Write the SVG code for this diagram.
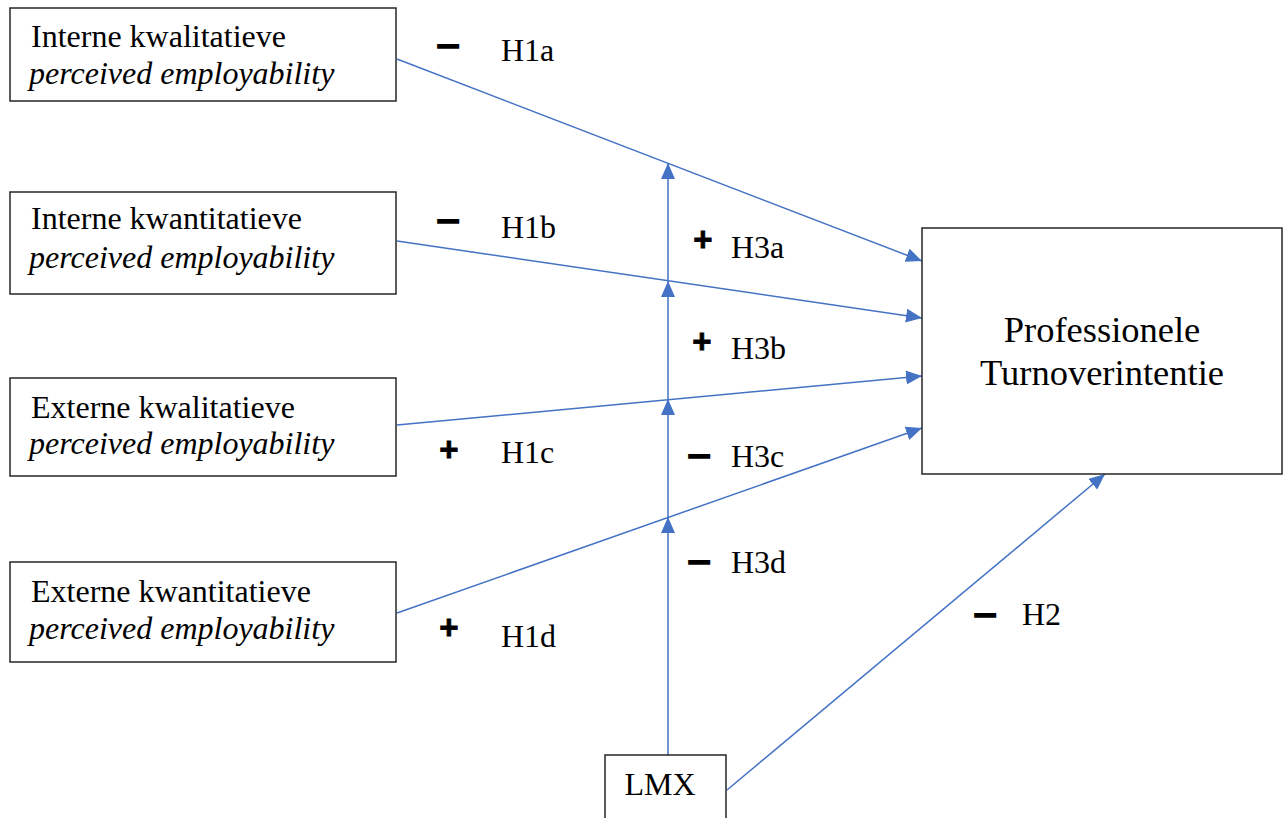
<svg xmlns="http://www.w3.org/2000/svg" width="1287" height="818" viewBox="0 0 1287 818">
<style>
.box{fill:#fff;stroke:#262626;stroke-width:1.5}
.t{font-family:"Liberation Serif","Times New Roman",serif;font-size:32px;fill:#000}
.i{font-style:italic}
.big{font-size:36.5px}
.c{stroke:#4472C4;stroke-width:1.5;fill:none}
.minus{font-family:"Liberation Sans",Arial,sans-serif;font-weight:bold;font-size:44px;text-anchor:middle;fill:#000}
.plus{font-family:"Liberation Sans",Arial,sans-serif;font-weight:900;font-size:33px;text-anchor:middle;fill:#000;stroke:#000;stroke-width:0.8}
</style>
<defs>
<marker id="ah" viewBox="0 0 16 14" refX="16" refY="7" markerWidth="16" markerHeight="14" markerUnits="userSpaceOnUse" orient="auto">
<path d="M0,0 L16,7 L0,14 z" fill="#4472C4"/>
</marker>
</defs>
<rect width="1287" height="818" fill="#fff"/>
<g id="connectors">
<line class="c" x1="397" y1="59" x2="922" y2="261" marker-end="url(#ah)"/>
<line class="c" x1="397" y1="241" x2="922" y2="318" marker-end="url(#ah)"/>
<line class="c" x1="397" y1="425" x2="922" y2="376" marker-end="url(#ah)"/>
<line class="c" x1="397" y1="613" x2="922" y2="428" marker-end="url(#ah)"/>
<line class="c" x1="668" y1="755" x2="668" y2="517" marker-end="url(#ah)"/>
<line class="c" x1="668" y1="517" x2="668" y2="399" marker-end="url(#ah)"/>
<line class="c" x1="668" y1="399" x2="668" y2="281" marker-end="url(#ah)"/>
<line class="c" x1="668" y1="281" x2="668" y2="163" marker-end="url(#ah)"/>
<line class="c" x1="727" y1="790" x2="1105" y2="474" marker-end="url(#ah)"/>
</g>
<g id="node-ikwal">
<rect class="box" x="10" y="8" width="386" height="93"/>
<text class="t" x="31" y="47">Interne kwalitatieve</text>
<text class="t i" x="29" y="84">perceived employability</text>
</g>
<g id="node-ikwan">
<rect class="box" x="10" y="192" width="386" height="102"/>
<text class="t" x="31" y="229">Interne kwantitatieve</text>
<text class="t i" x="29" y="268">perceived employability</text>
</g>
<g id="node-ekwal">
<rect class="box" x="10" y="378" width="386" height="98"/>
<text class="t" x="31" y="418">Externe kwalitatieve</text>
<text class="t i" x="29" y="454">perceived employability</text>
</g>
<g id="node-ekwan">
<rect class="box" x="10" y="562" width="386" height="100"/>
<text class="t" x="31" y="602">Externe kwantitatieve</text>
<text class="t i" x="29" y="639">perceived employability</text>
</g>
<g id="node-turnover">
<rect class="box" x="922" y="228" width="360" height="246"/>
<text class="t big" x="1102" y="342" text-anchor="middle">Professionele</text>
<text class="t big" x="1102" y="385" text-anchor="middle">Turnoverintentie</text>
</g>
<g id="node-lmx">
<rect class="box" x="605" y="755" width="121" height="70"/>
<text class="t" x="660" y="795" text-anchor="middle">LMX</text>
</g>
<g id="labels">
<text class="minus" x="448" y="61">−</text><text class="t" x="501" y="61">H1a</text>
<text class="minus" x="448" y="236">−</text><text class="t" x="501" y="238">H1b</text>
<text class="plus" x="449" y="461">+</text><text class="t" x="501" y="463">H1c</text>
<text class="plus" x="449" y="639">+</text><text class="t" x="501" y="647">H1d</text>
<text class="plus" x="703" y="251">+</text><text class="t" x="731" y="258">H3a</text>
<text class="plus" x="702" y="353">+</text><text class="t" x="731" y="359">H3b</text>
<text class="minus" x="699" y="471">−</text><text class="t" x="731" y="467">H3c</text>
<text class="minus" x="699" y="577">−</text><text class="t" x="731" y="573">H3d</text>
<text class="minus" x="985" y="630">−</text><text class="t" x="1022" y="625">H2</text>
</g>
</svg>
